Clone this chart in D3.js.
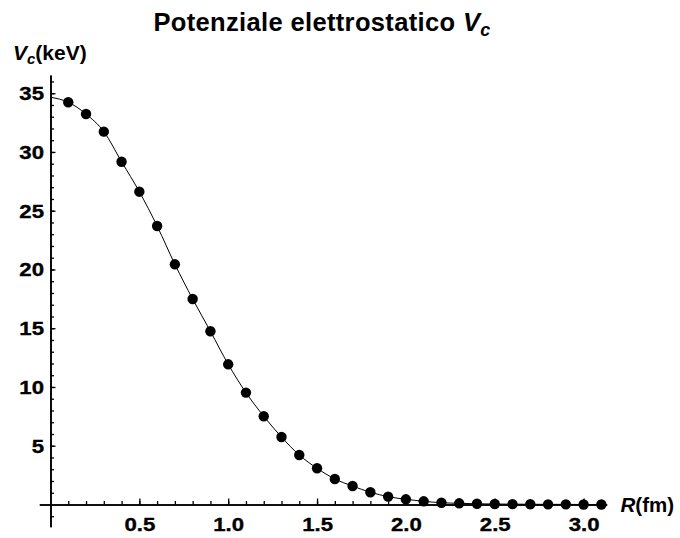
<!DOCTYPE html>
<html>
<head>
<meta charset="utf-8">
<script src="https://cdn.jsdelivr.net/npm/d3@7"></script>
<style>
  html, body { margin: 0; padding: 0; background: #fff; }
  svg { display: block; font-family: "Liberation Sans", Arial, sans-serif; }
</style>
</head>
<body>
<svg id="chart" width="680" height="538"></svg>
<script>
// ---- data ----
const radius = [0.1,0.2,0.3,0.4,0.5,0.6,0.7,0.8,0.9,1.0,1.1,1.2,1.3,1.4,1.5,1.6,1.7,1.8,1.9,2.0,2.1,2.2,2.3,2.4,2.5,2.6,2.7,2.8,2.9,3.0,3.1];
const potential = [34.23,33.23,31.73,29.17,26.62,23.70,20.44,17.49,14.74,11.93,9.52,7.51,5.74,4.21,3.08,2.17,1.57,1.04,0.67,0.44,0.27,0.15,0.10,0.06,0.04,0.03,0.02,0.01,0.01,0.0,0.0];
const curveStartR = 0;
const curveStartV = 34.66;
const xMajorTicks = [0.5,1.0,1.5,2.0,2.5,3.0];
const xTickLabels = ["0.5","1.0","1.5","2.0","2.5","3.0"];
const yMajorTicks = [5,10,15,20,25,30,35];
const yTickLabels = ["5","10","15","20","25","30","35"];
const xMinorTicks = d3.range(1, 32).map(i => i / 10);
const yMinorTicks = d3.range(-1, 37).filter(v => v !== 0);

const svg = d3.select("#chart");

const x = d3.scaleLinear().domain([-0.063, 3.13]).range([39.3, 606.7]);
const y = d3.scaleLinear().domain([-1.89, 36.55]).range([526.7, 75]);

const x0 = x(0), y0 = y(0);
const stretch = 1.2;

// ---- axes ----
const xMinor = d3.axisBottom(x).tickValues(xMinorTicks).tickSizeInner(-3.5).tickSizeOuter(0).tickFormat("");
const xMajor = d3.axisBottom(x).tickValues(xMajorTicks).tickSizeInner(-6).tickSizeOuter(0)
  .tickPadding(13).tickFormat((d, i) => xTickLabels[i]);

const gx1 = svg.append("g").attr("transform", `translate(0,${y0})`).call(xMinor);
const gx2 = svg.append("g").attr("transform", `translate(0,${y0})`).call(xMajor);

const yMinor = d3.axisLeft(y).tickValues(yMinorTicks).tickSizeInner(-3.5).tickSizeOuter(0).tickFormat("");
const yMajor = d3.axisLeft(y).tickValues(yMajorTicks).tickSizeInner(-5).tickSizeOuter(0)
  .tickPadding(6).tickFormat((d, i) => yTickLabels[i]);

const gy1 = svg.append("g").attr("transform", `translate(${x0},0)`).call(yMinor);
const gy2 = svg.append("g").attr("transform", `translate(${x0},0)`).call(yMajor);

[gx1, gx2, gy1, gy2].forEach(g => {
  g.attr("font-family", "Liberation Sans, Arial, sans-serif").attr("font-size", 18.5).attr("font-weight", 700);
  g.selectAll("path.domain").attr("stroke", "#000").attr("stroke-width", 1.6);
  g.selectAll(".tick line").attr("stroke", "#000").attr("stroke-width", 1.3);
  g.selectAll(".tick text")
    .attr("fill", "#000")
    .attr("stroke", "#000")
    .attr("stroke-width", 0.35)
    .style("font-weight", "700")
    .style("font-size", "18.5px");
});
gx2.selectAll(".tick text").attr("dy", "0.71em").attr("x", 0).attr("transform", `scale(${stretch},1)`);
gy2.selectAll(".tick text").attr("dy", "0.35em").attr("x", -6.5 / stretch).attr("transform", `scale(${stretch},1)`);

// ---- curve & points ----
const pts = radius.map((r, i) => [r, potential[i]]);
const linePts = [[curveStartR, curveStartV]].concat(pts);

svg.append("path")
  .datum(linePts)
  .attr("fill", "none")
  .attr("stroke", "#000")
  .attr("stroke-width", 1)
  .attr("d", d3.line().x(d => x(d[0])).y(d => y(d[1])).curve(d3.curveMonotoneX));

svg.append("g").selectAll("circle")
  .data(pts)
  .join("circle")
  .attr("cx", d => x(d[0]))
  .attr("cy", d => y(d[1]))
  .attr("r", 5.2)
  .attr("fill", "#000");

// ---- title & axis labels ----
const title = svg.append("text")
  .attr("x", 322).attr("y", 31)
  .attr("text-anchor", "middle")
  .style("font-weight", "bold")
  .style("font-size", "25.5px")
  .style("letter-spacing", "0.35px");
title.append("tspan").text("Potenziale elettrostatico ");
title.append("tspan").style("font-style", "italic").text("V");
title.append("tspan").style("font-style", "italic").style("font-size", "18px").attr("dy", 5).text("c");

const ylab = svg.append("text")
  .attr("x", 13).attr("y", 60)
  .style("font-weight", "bold")
  .style("font-size", "21px");
ylab.append("tspan").style("font-style", "italic").text("V");
ylab.append("tspan").style("font-style", "italic").style("font-size", "15px").attr("dy", 4).text("c");
ylab.append("tspan").attr("dy", -4).text("(keV)");

const xlab = svg.append("text")
  .attr("x", 620.5).attr("y", 512)
  .style("font-weight", "bold")
  .style("font-size", "20.5px");
xlab.append("tspan").style("font-style", "italic").text("R");
xlab.append("tspan").text("(fm)");
</script>
</body>
</html>
